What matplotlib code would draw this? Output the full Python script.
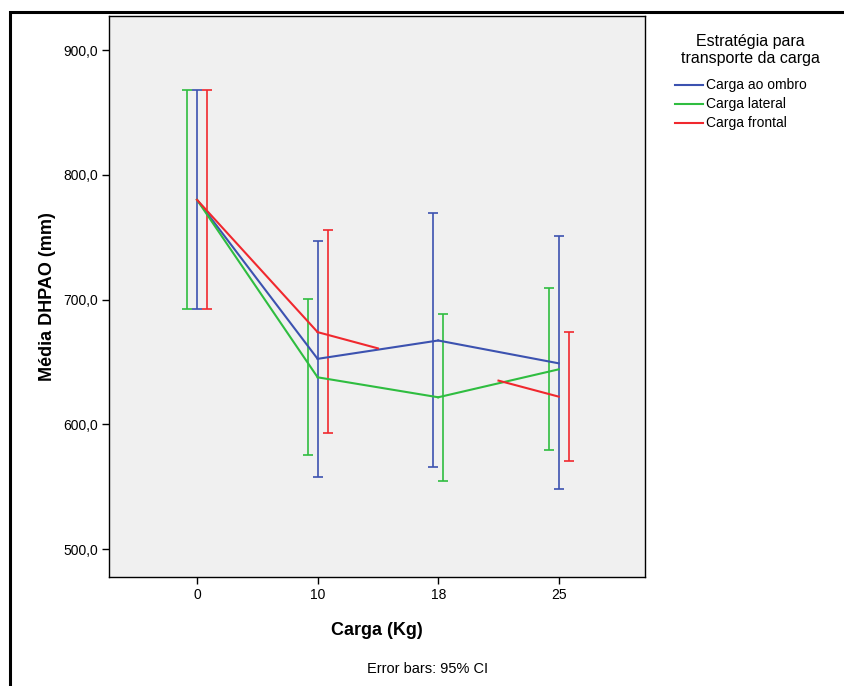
import numpy as np
import matplotlib
matplotlib.use("Agg")
import matplotlib.pyplot as plt
from matplotlib.lines import Line2D
from matplotlib.patches import Rectangle

plt.rcParams['font.family'] = ['Liberation Sans', 'DejaVu Sans']

# data
cargas = ['0', '10', '18', '25']
series = ['Carga ao ombro', 'Carga lateral', 'Carga frontal']
colors = ['#3c52b0', '#2fbd40', '#f0282e']

ombro_mean = [780.0, 652.6, 667.3, 649.0]
ombro_lo = [692.4, 557.6, 566.0, 548.0]
ombro_hi = [868.4, 747.0, 769.4, 750.7]

lateral_mean = [780.0, 637.8, 621.8, 644.2]
lateral_lo = [692.4, 575.8, 554.9, 579.5]
lateral_hi = [868.4, 700.2, 688.7, 709.5]

# no CI at 18 for frontal: SPSS only draws the half segments around it
frontal_mean = [780.0, 674.0, 648.0, 622.3]
frontal_lo = [692.4, 593.0, np.nan, 570.4]
frontal_hi = [868.4, 755.5, np.nan, 674.0]

means = [ombro_mean, lateral_mean, frontal_mean]
los = [ombro_lo, lateral_lo, frontal_lo]
his = [ombro_hi, lateral_hi, frontal_hi]
# horizontal offset of each error bar (per category), as SPSS dodges them
dodge = [[0.0, 0.0, -0.042, 0.0],
         [-0.083, -0.083, 0.042, -0.083],
         [0.083, 0.083, 0.0, 0.083]]

W, H = 845, 686
fig = plt.figure(figsize=(W / 100, H / 100), dpi=100)
ax = fig.add_axes([109 / W, 1 - 577 / H, (645 - 109) / W, (577 - 16) / H])
ax.set_facecolor('#f0f0f0')

x = np.arange(len(cargas))
for m, lo, hi, c, d in zip(means, los, his, colors, dodge):
    m = np.array(m); lo = np.array(lo); hi = np.array(hi); d = np.array(d)
    ok = ~np.isnan(lo)
    for i in range(len(x) - 1):
        x0, x1, y0, y1 = x[i], x[i + 1], m[i], m[i + 1]
        if ok[i] and ok[i + 1]:
            ax.plot([x0, x1], [y0, y1], color=c, lw=1.5, zorder=3)
        elif ok[i]:
            ax.plot([x0, (x0 + x1) / 2], [y0, (y0 + y1) / 2], color=c, lw=1.5, zorder=3)
        elif ok[i + 1]:
            ax.plot([(x0 + x1) / 2, x1], [(y0 + y1) / 2, y1], color=c, lw=1.5, zorder=3)
    xe = x[ok] + d[ok]
    ax.errorbar(xe, m[ok], yerr=[m[ok] - lo[ok], hi[ok] - m[ok]], fmt='none',
                ecolor=c, elinewidth=1.2, capsize=3.8, capthick=1.2, zorder=2)

ax.set_xlim(-0.73, 3.715)
ax.set_ylim(477.8, 927.3)
ax.set_xticks(x)
ax.set_xticklabels(cargas)
yt = [500, 600, 700, 800, 900]
ax.set_yticks(yt)
ax.set_yticklabels([f'{v:.1f}'.replace('.', ',') for v in yt])
ax.tick_params(direction='out', length=5, width=1, labelsize=10, colors='black', pad=3)
for s in ax.spines.values():
    s.set_linewidth(1)
    s.set_color('black')

ax.set_xlabel('Carga (Kg)', fontsize=13, fontweight='bold', labelpad=14)
ax.set_ylabel('Média DHPAO (mm)', fontsize=13, fontweight='bold', labelpad=5)

fig.text(428 / W, 1 - 669 / H, 'Error bars: 95% CI', ha='center', va='center', fontsize=10.5)

# outer frame running off the right and bottom edges
fig.patches.append(Rectangle((10 / W, -0.1), 1.2, 1 - 12 / H + 0.1, transform=fig.transFigure,
                             fill=False, edgecolor='black', lw=2.2))

# legend
fig.text(750 / W, 1 - 50 / H, 'Estratégia para\ntransporte da carga', ha='center', va='center',
         fontsize=11.5, linespacing=1.1)
for k, (lab, c) in enumerate(zip(series, colors)):
    yy = 1 - (85 + 19 * k) / H
    fig.lines.append(Line2D([675 / W, 703 / W], [yy, yy], color=c, lw=1.5, transform=fig.transFigure))
    fig.text(706 / W, yy, lab, ha='left', va='center', fontsize=10)

fig.savefig('out.png', dpi=100)
